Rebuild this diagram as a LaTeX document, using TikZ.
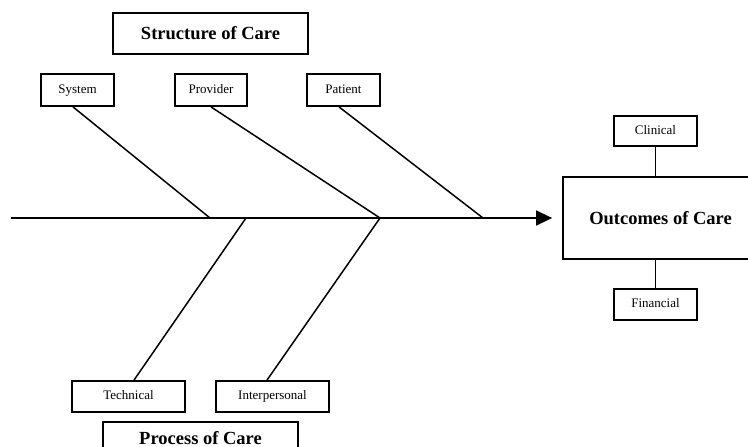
\documentclass[tikz,border=0pt]{standalone}
\usepackage{fontspec}
\setmainfont{Liberation Serif}
\usetikzlibrary{arrows.meta,calc}
\begin{document}
\begin{tikzpicture}[x=1pt,y=-1pt,
  box/.style={draw,line width=1.8pt,inner sep=0pt,align=center},
  bigbox/.style={box,font=\fontsize{18.5}{20}\selectfont\bfseries,minimum width=195pt,minimum height=41pt},
  smallbox/.style={box,font=\fontsize{13}{15}\selectfont,minimum height=31pt,text height=9pt,text depth=3pt},
  bone/.style={line width=1.5pt},
  spine/.style={line width=1.6pt,-{Triangle[length=16pt,width=15pt]}}]
\useasboundingbox (0,0) rectangle (748,447);
\clip (0,0) rectangle (748,447);
% main boxes
\node[bigbox] (soc) at (210.5,33.5) {Structure of Care};
\node[bigbox,text height=13pt,text depth=10pt] (poc) at (200.5,442.5) {Process of Care};
\node[bigbox,minimum height=82pt] (out) at (660.5,218) {Outcomes of Care};
% small boxes
\node[smallbox,minimum width=73pt,minimum height=32pt] (system) at (77.5,90) {System};
\node[smallbox,minimum width=72pt,minimum height=32pt] (provider) at (211,90) {Provider};
\node[smallbox,minimum width=73pt,minimum height=32pt] (patient) at (343.5,90) {Patient};
\node[smallbox,minimum width=113pt] (technical) at (128.5,396.5) {Technical};
\node[smallbox,minimum width=113pt] (interp) at (272.5,396.5) {Interpersonal};
\node[smallbox,minimum width=83pt,minimum height=30pt] (clinical) at (655.5,131) {Clinical};
\node[smallbox,minimum width=83pt] (financial) at (655.5,304.5) {Financial};
% spine
\coordinate (tail) at (11,218);
\coordinate (j1) at (210,218);
\coordinate (j2) at (246,218);
\coordinate (j3) at (380,218);
\coordinate (j4) at (483,218);
\draw[spine] (tail) -- ($(out.west)+(-10,0)$);
% bones
\draw[bone] ($(system.south)+(-4.5,0)$) -- (j1);
\draw[bone] (provider.south) -- (j3);
\draw[bone] ($(patient.south)+(-4.5,0)$) -- (j4);
\draw[bone] ($(technical.north)+(5.5,0)$) -- (j2);
\draw[bone] ($(interp.north)+(-5.5,0)$) -- (j3);
% outcome ties
\draw[bone] (clinical.south) -- (clinical.south |- out.north);
\draw[bone] (financial.north) -- (financial.north |- out.south);
\end{tikzpicture}
\end{document}
